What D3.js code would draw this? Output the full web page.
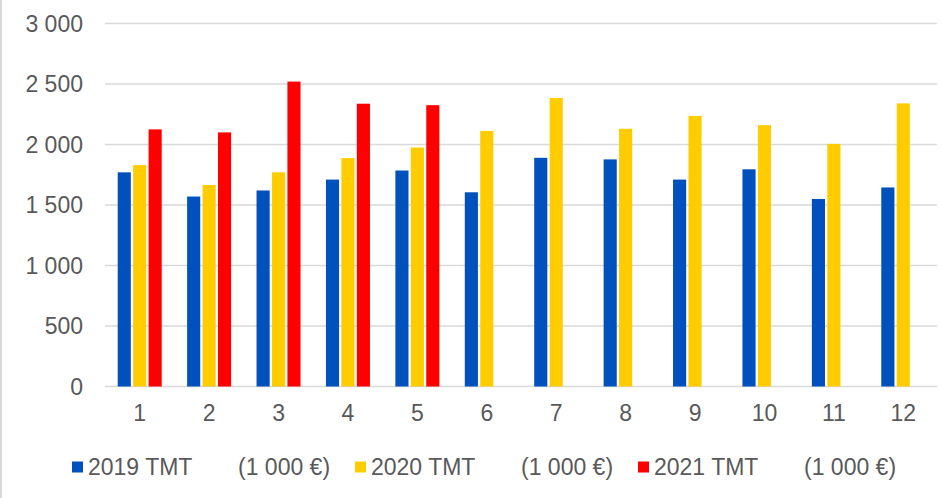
<!doctype html>
<html lang="en">
<head>
<meta charset="UTF-8">
<script src="https://d3js.org/d3.v7.min.js"></script>
<style>
body { margin: 0; background: #fff; }
text { font-family: "Liberation Sans", Arial, sans-serif; fill: #595959; }
</style>
</head>
<body>
<div id="main"></div>
<script>
'use strict';

var months = ["1", "2", "3", "4", "5", "6", "7", "8", "9", "10", "11", "12"];
var tmt2019 = [1770, 1570, 1620, 1710, 1785, 1605, 1890, 1877, 1710, 1795, 1550, 1645];
var tmt2020 = [1830, 1665, 1770, 1888, 1975, 2112, 2385, 2130, 2236, 2160, 2005, 2340];
var tmt2021 = [2125, 2100, 2520, 2337, 2325, null, null, null, null, null, null, null];
var seriesNames = ["2019 TMT", "2020 TMT", "2021 TMT"];
var seriesColors = ["#0050bd", "#ffcc00", "#ff0000"];
var yTicks = [0, 500, 1000, 1500, 2000, 2500, 3000];

var width = 941, height = 498;
var series = [tmt2019, tmt2020, tmt2021];

var svg = d3.select("#main").append("svg")
  .attr("width", width)
  .attr("height", height);

// left edge of the chart frame
svg.append("line")
  .attr("x1", 1).attr("x2", 1)
  .attr("y1", 0).attr("y2", height)
  .attr("stroke", "#d9d9d9")
  .attr("stroke-width", 2);

var x0 = d3.scaleBand().domain(months).range([105, 938])
  .paddingInner(0.366).paddingOuter(0.183);
var x1 = d3.scaleBand().domain(d3.range(3)).range([0, x0.bandwidth()])
  .paddingInner(0.15).paddingOuter(0);
var y = d3.scaleLinear().domain([0, 3000]).range([386.5, 23.5]);

// gridlines
svg.selectAll(".grid")
  .data(yTicks)
  .enter().append("line")
  .attr("class", "grid")
  .attr("x1", 105).attr("x2", 937)
  .attr("y1", function(d) { return y(d); })
  .attr("y2", function(d) { return y(d); })
  .attr("stroke", "#d9d9d9")
  .attr("stroke-width", 1.5);

// y tick labels
svg.selectAll(".ylab")
  .data(yTicks)
  .enter().append("text")
  .attr("class", "ylab")
  .attr("x", 83)
  .attr("y", function(d) { return y(d); })
  .attr("dy", "0.35em")
  .attr("text-anchor", "end")
  .style("font-size", "23px")
  .text(function(d) { return d3.format(",")(d).replace(/,/g, " "); });

// bars
var groups = svg.selectAll(".month")
  .data(months)
  .enter().append("g")
  .attr("class", "month")
  .attr("transform", function(d) { return "translate(" + x0(d) + ",0)"; });

groups.selectAll("rect")
  .data(function(d, i) {
    return series.map(function(s, k) { return {k: k, v: s[i]}; })
      .filter(function(e) { return e.v != null; });
  })
  .enter().append("rect")
  .attr("x", function(d) { return x1(d.k); })
  .attr("width", x1.bandwidth())
  .attr("y", function(d) { return y(d.v); })
  .attr("height", function(d) { return y(0) - y(d.v); })
  .attr("fill", function(d) { return seriesColors[d.k]; });

// x labels
svg.selectAll(".xlab")
  .data(months)
  .enter().append("text")
  .attr("class", "xlab")
  .attr("x", function(d) { return x0(d) + x0.bandwidth() / 2; })
  .attr("y", 413)
  .attr("dy", "0.35em")
  .attr("text-anchor", "middle")
  .style("font-size", "23px")
  .text(function(d) { return d; });

// legend
var legend = svg.selectAll(".legend")
  .data(seriesNames)
  .enter().append("g")
  .attr("class", "legend")
  .attr("transform", function(d, i) { return "translate(" + (72 + i * 283) + ",467)"; });

legend.append("rect")
  .attr("x", 0).attr("y", -5.5)
  .attr("width", 11).attr("height", 11)
  .attr("fill", function(d, i) { return seriesColors[i]; });

legend.append("text")
  .attr("x", 16)
  .attr("dy", "0.35em")
  .style("font-size", "23px")
  .text(function(d) { return d; });

legend.append("text")
  .attr("x", 166)
  .attr("dy", "0.35em")
  .style("font-size", "23px")
  .text("(1 000 €)");
</script>
</body>
</html>
